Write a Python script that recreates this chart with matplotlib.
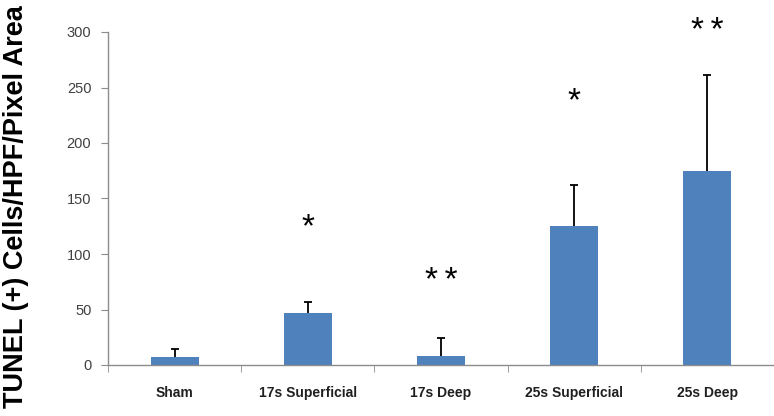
import numpy as np
import matplotlib.pyplot as plt

groups = ['Sham', '17s Superficial', '17s Deep', '25s Superficial', '25s Deep']
means = [7, 47, 8, 125, 175]
upper = [14, 57, 24, 162, 261]   # top of error bar
stars = ['', '*', '*\u2009*', '*', '*\u2009*']
star_y = [0, 124, 75, 237, 300]

err = np.array(upper) - np.array(means)
x = np.arange(len(groups))

fig = plt.figure(figsize=(7.74, 4.16), dpi=100)
ax = fig.add_axes([108/774, 51/416, (774-108)/774, 333/416])

ax.bar(x, means, width=0.36, color='#4F81BD', zorder=2)
_, caps, _ = ax.errorbar(x, means, yerr=[np.zeros(len(x)), err], fmt='none',
                         ecolor='black', elinewidth=1.3, capsize=3,
                         capthick=1.3, zorder=3)
caps[0].set_visible(False)   # only the upper cap

for xi, s, sy in zip(x, stars, star_y):
    if s:
        ax.text(xi, sy, s, ha='center', va='center', fontsize=24,
                family=['Liberation Sans', 'DejaVu Sans'], clip_on=False)

ax.set_xlim(-0.5, 4.415)
ax.set_ylim(0, 300)
ax.set_yticks(np.arange(0, 301, 50))

for side in ['top', 'right']:
    ax.spines[side].set_visible(False)
for side in ['left', 'bottom']:
    ax.spines[side].set_color('#8c8c8c')
    ax.spines[side].set_linewidth(1)

ax.tick_params(axis='y', colors='#8c8c8c', labelcolor='#404040', length=5,
               labelsize=10.5, pad=7)
for lab in ax.get_yticklabels():
    lab.set_family(['Liberation Sans', 'DejaVu Sans'])

# category labels centred, tick marks between categories
ax.set_xticks(x)
ax.set_xticklabels(groups, fontsize=10, fontweight='bold',
                   family=['Liberation Sans', 'DejaVu Sans'])
ax.tick_params(axis='x', length=0, pad=15, labelcolor='#202020')
ax.set_xticks(np.arange(-0.5, 5, 1), minor=True)
ax.tick_params(axis='x', which='minor', length=5, color='#8c8c8c')

ax.set_ylabel('TUNEL (+) Cells/HPF/Pixel Area', fontsize=19.5, fontweight='bold',
              family=['Liberation Sans', 'DejaVu Sans'])
ax.yaxis.set_label_coords(-0.118, 0.475)

fig.savefig('out.png', dpi=100)
